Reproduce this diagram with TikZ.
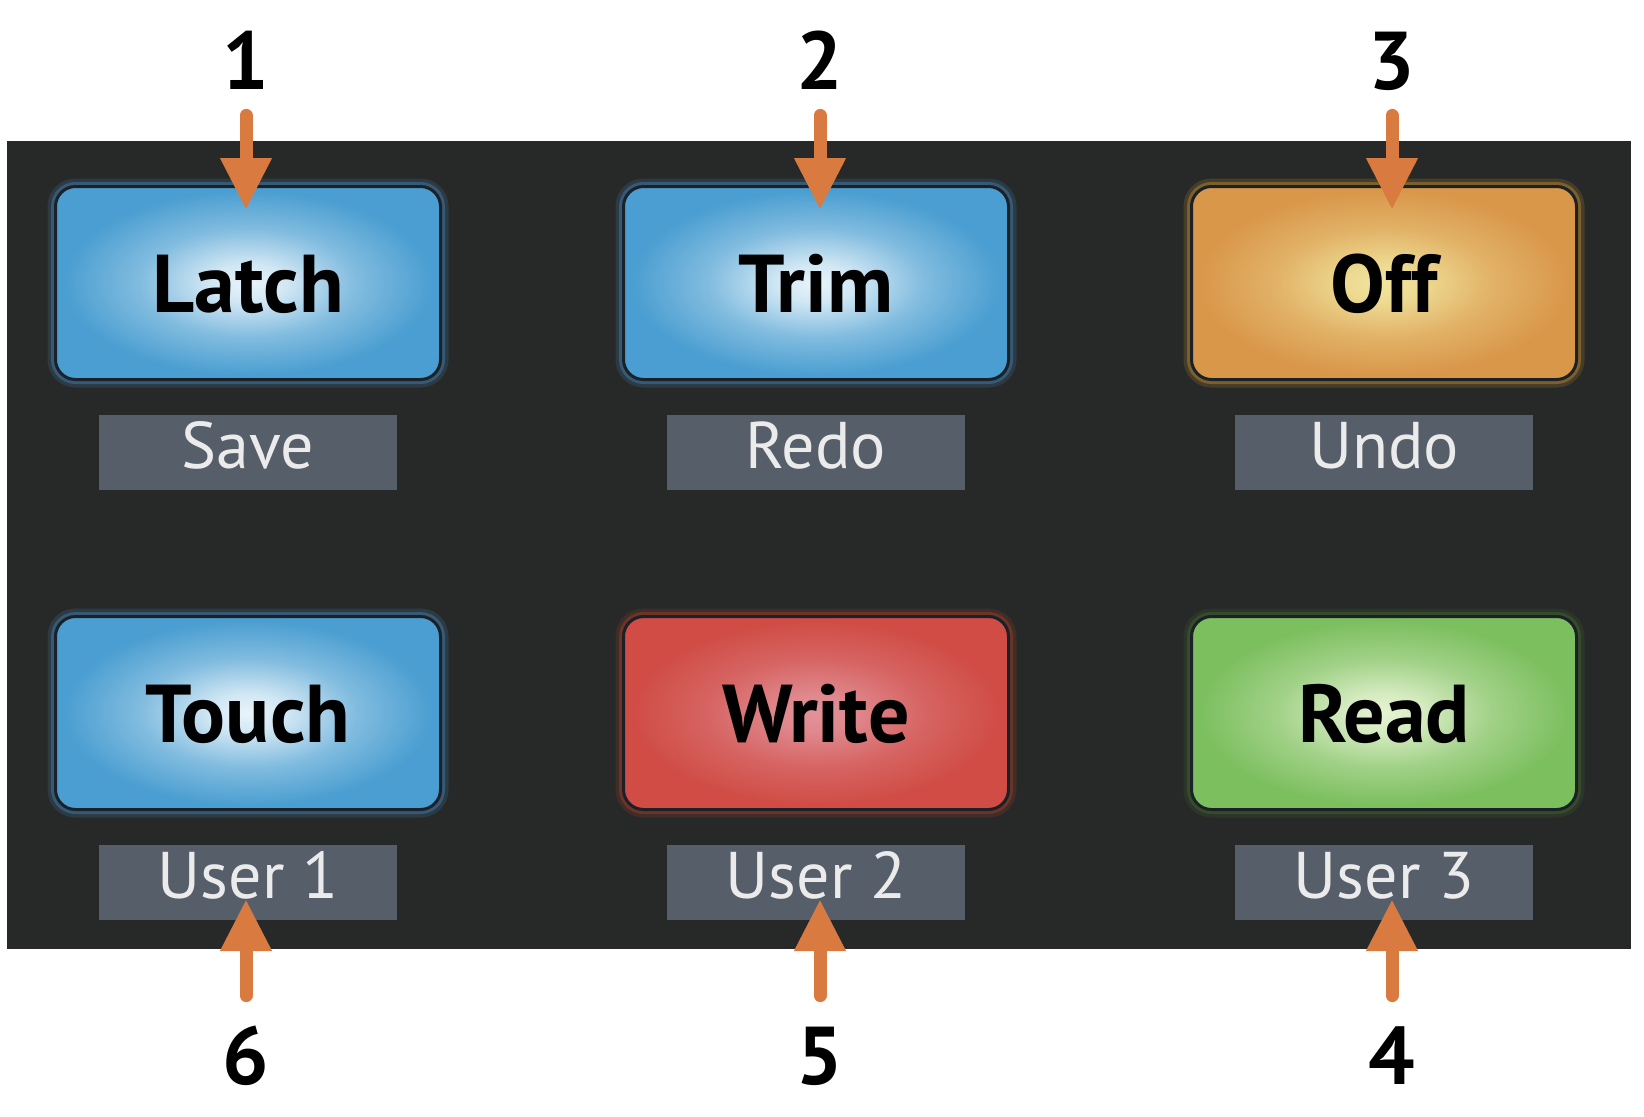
\documentclass[tikz,border=0pt]{standalone}
\usepackage{fontspec}
\setmainfont{PT Sans}
\usetikzlibrary{arrows.meta,positioning}

\definecolor{panelbg}{HTML}{272929}
\definecolor{tagbg}{HTML}{565E69}
\definecolor{calloutc}{HTML}{D97B40}
\definecolor{padline}{HTML}{1A2129}
\definecolor{bluein}{HTML}{E9F4FA}
\definecolor{blueout}{HTML}{4A9ED1}
\definecolor{bluehalo}{HTML}{3D6F96}
\definecolor{orangein}{HTML}{F1E59E}
\definecolor{orangeout}{HTML}{D9974A}
\definecolor{orangehalo}{HTML}{A0782A}
\definecolor{redin}{HTML}{E2929A}
\definecolor{redout}{HTML}{D04C45}
\definecolor{redhalo}{HTML}{8A3A26}
\definecolor{greenin}{HTML}{E6F3D2}
\definecolor{greenout}{HTML}{7CBF5F}
\definecolor{greenhalo}{HTML}{3E5A2A}

\pgfdeclareradialshading[glowin,glowout]{padglow}{\pgfpoint{0bp}{0bp}}{%
  color(0bp)=(glowin); color(5bp)=(glowin!85!glowout);
  color(14bp)=(glowin!35!glowout); color(24bp)=(glowout); color(50bp)=(glowout)}

\begin{document}
\begin{tikzpicture}[x=0.5pt, y=-0.5pt,
  pad/.style={rounded corners=10pt, minimum width=192.5pt, minimum height=96.5pt,
    inner sep=0pt, draw=padline, line width=1.5pt, shade, shading=padglow,
    font=\bfseries\fontsize{41}{41}\selectfont, text height=29pt, text depth=0pt},
  bluepad/.style={pad, /utils/exec={\colorlet{glowin}{bluein}\colorlet{glowout}{blueout}},
    preaction={draw=bluehalo, line width=8pt, opacity=.25},
    preaction={draw=bluehalo, line width=4.5pt, opacity=.6}},
  orangepad/.style={pad, /utils/exec={\colorlet{glowin}{orangein}\colorlet{glowout}{orangeout}},
    preaction={draw=orangehalo, line width=8pt, opacity=.25},
    preaction={draw=orangehalo, line width=4.5pt, opacity=.6}},
  redpad/.style={pad, /utils/exec={\colorlet{glowin}{redin}\colorlet{glowout}{redout}},
    preaction={draw=redhalo, line width=8pt, opacity=.25},
    preaction={draw=redhalo, line width=4.5pt, opacity=.6}},
  greenpad/.style={pad, /utils/exec={\colorlet{glowin}{greenin}\colorlet{glowout}{greenout}},
    preaction={draw=greenhalo, line width=8pt, opacity=.25},
    preaction={draw=greenhalo, line width=4.5pt, opacity=.6}},
  tag/.style={fill=tagbg, minimum width=149pt, minimum height=37.5pt, inner sep=0pt,
    text=white!92!black, font=\fontsize{33}{33}\selectfont,
    text height=23.5pt, text depth=8pt},
  num/.style={inner sep=0pt, font=\bfseries\fontsize{41}{41}\selectfont,
    text height=29pt, text depth=0pt},
  callout/.style={draw=calloutc, line width=6.5pt, line cap=round,
    -{Triangle[width=24pt,length=26pt]}, shorten <=13pt}]

\useasboundingbox (0,0) rectangle (1644,1116);
\fill[white] (0,0) rectangle (1644,1116);
\fill[panelbg] (7,141) rectangle (1631,949);

% buttons
\node[bluepad] (latch) at (248,283) {Latch};
\node[bluepad] (trim) at (816,283) {Trim};
\node[orangepad] (off) at (1384,283) {Off};
\node[bluepad] (touch) at (248,713) {Touch};
\node[redpad] (write) at (816,713) {Write};
\node[greenpad] (read) at (1384,713) {Read};

% shift functions
\node[tag, below=17pt of latch] (save) {Save};
\node[tag, below=17pt of trim] (redo) {Redo};
\node[tag, below=17pt of off] (undo) {Undo};
\node[tag, below=17pt of touch] (user1) {User 1};
\node[tag, below=17pt of write] (user2) {User 2};
\node[tag, below=17pt of read] (user3) {User 3};

% callouts
\node[num] (n1) at (246,60) {1};
\node[num] (n2) at (820,60) {2};
\node[num] (n3) at (1392,60) {3};
\node[num] (n6) at (246,1055) {6};
\node[num] (n5) at (820,1055) {5};
\node[num] (n4) at (1392,1055) {4};
\coordinate (p1) at (246,210);
\coordinate (p2) at (820,210);
\coordinate (p3) at (1392,210);
\coordinate (p6) at (246,899);
\coordinate (p5) at (820,899);
\coordinate (p4) at (1392,899);
\draw[callout] (n1) -- (p1);
\draw[callout] (n2) -- (p2);
\draw[callout] (n3) -- (p3);
\draw[callout, shorten <=15pt] (n6) -- (p6);
\draw[callout, shorten <=15pt] (n5) -- (p5);
\draw[callout, shorten <=15pt] (n4) -- (p4);
\end{tikzpicture}
\end{document}
